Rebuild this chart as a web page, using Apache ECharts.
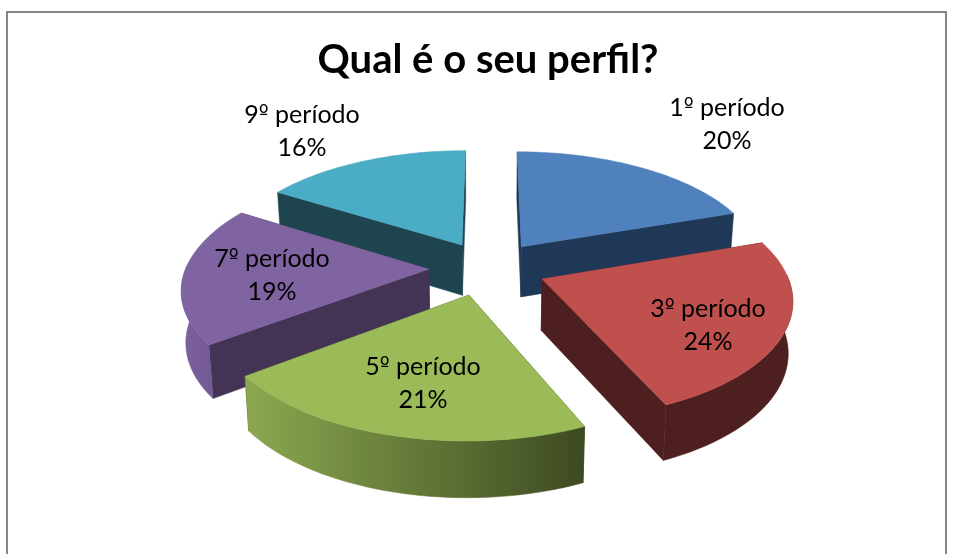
<!DOCTYPE html>
<html>
<head>
<meta charset="utf-8">
<title>Qual é o seu perfil?</title>
<script src="https://cdn.jsdelivr.net/npm/echarts@6/dist/echarts.min.js"></script>
<style>
  html, body { margin: 0; padding: 0; background: #fff; }
  #chart { width: 956px; height: 554px; }
</style>
</head>
<body>
<div id="chart"></div>
<script>
var titleText = 'Qual é o seu perfil?';
var categories = ['1º período', '3º período', '5º período', '7º período', '9º período'];
var shares = [19.8, 23.6, 21.4, 19, 16.2];

// cores: topo, parede radial, borda externa (de/para)
var topColors = ['#4F81BD', '#C0504D', '#9BBB59', '#8064A2', '#4BACC6'];
var wallColors = ['#1F3857', '#4D1F1E', '#3F4C23', '#433354', '#1E4450'];
var rimFrom = ['#1F3857', '#4D1F1E', '#8CA850', '#7D619E', '#2F6F80'];
var rimTo = ['#1F3857', '#4D1F1E', '#3D4A21', '#6A5288', '#1E4450'];

// ordem de pintura: de tras para frente
var paintOrder = [4, 0, 3, 1, 2];
var labelPos = [[727, 124], [708, 325], [423, 383], [272, 275], [302, 131]];
var nudgeX = [0, 0, -5, -3, 0];   // ajuste fino horizontal de cada fatia

// projecao da pizza "3D"
var cx = 489, cy = 268;
var rx = 243, ry = 115;
var persp = 0.15;      // perspectiva (frente maior que o fundo)
var explode = 0.235;   // afastamento das fatias
var depth = 51;        // altura da fatia
var shrink = 0.985;    // base um pouco menor que o topo

function project(X, Y, low) {
    var s = 1 / (1 - persp * Y);
    var x = cx + rx * X * s;
    var y = cy + ry * Y * s;
    if (low) {
        x = cx + (x - cx) * shrink;
        y = y + depth * (0.5 + 0.5 * s);
    }
    return [x, y];
}

var total = shares.reduce(function (a, b) { return a + b; }, 0);

function sliceAngles(i) {
    var acc = 0;
    for (var k = 0; k < i; k++) acc += shares[k];
    return [acc / total * Math.PI * 2, (acc + shares[i]) / total * Math.PI * 2];
}

function labelText(i) {
    return '{t|' + categories[i].replace('º', '}{o|º}{t|') + '}\n{t|' + Math.round(shares[i]) + '%}';
}

function renderSlice(params, api) {
    var i = params.dataIndex;
    var ang = sliceAngles(i);
    var mid = (ang[0] + ang[1]) / 2;
    var ox = Math.sin(mid) * explode;
    var oy = -Math.cos(mid) * explode;

    var arc = [];
    var front = [];
    var n = 60;
    for (var k = 0; k <= n; k++) {
        var a = ang[0] + (ang[1] - ang[0]) * k / n;
        var p = [ox + Math.sin(a), oy - Math.cos(a)];
        arc.push(p);
        // so a parte da borda voltada para quem olha aparece
        if (-Math.cos(a) > -0.05) front.push(p);
    }
    var topArc = arc.map(function (p) { return project(p[0], p[1], false); });
    var lowArc = arc.map(function (p) { return project(p[0], p[1], true); });
    var frontTop = front.map(function (p) { return project(p[0], p[1], false); });
    var frontLow = front.map(function (p) { return project(p[0], p[1], true); });
    var apexTop = project(ox, oy, false);
    var apexLow = project(ox, oy, true);

    var order = paintOrder.indexOf(i) * 10;
    var minX = Infinity, maxX = -Infinity;
    topArc.forEach(function (p) { minX = Math.min(minX, p[0]); maxX = Math.max(maxX, p[0]); });

    function poly(points, fill, z) {
        return {
            type: 'polygon',
            z2: order + z,
            x: nudgeX[i],
            shape: { points: points },
            style: { fill: fill, stroke: fill, lineWidth: 0.5 }
        };
    }

    var rimFill = new echarts.graphic.LinearGradient(minX, 0, maxX, 0, [
        { offset: 0, color: rimFrom[i] },
        { offset: 1, color: rimTo[i] }
    ], true);

    var children = [
        poly([apexTop, topArc[0], lowArc[0], apexLow], wallColors[i], 1),
        poly([apexTop, topArc[n], lowArc[n], apexLow], wallColors[i], 2)
    ];
    if (front.length > 1) {
        children.push(poly(frontTop.concat(frontLow.slice().reverse()), rimFill, 3));
    }
    children.push(poly([apexTop].concat(topArc), topColors[i], 4));
    children.push({
        type: 'text',
        z2: 100,
        x: labelPos[i][0],
        y: labelPos[i][1],
        style: {
            text: labelText(i),
            align: 'center',
            verticalAlign: 'middle',
            rich: {
                t: { fontFamily: 'Lato', fontSize: 25, lineHeight: 33, fill: '#000', color: '#000' },
                o: { fontFamily: 'DejaVu Sans', fontSize: 21, lineHeight: 33, fill: '#000', color: '#000' }
            }
        }
    });

    return { type: 'group', children: children };
}

var chart = echarts.init(document.getElementById('chart'));
chart.setOption({
    animation: false,
    backgroundColor: '#fff',
    title: {
        text: titleText,
        left: 483,
        top: 35,
        textAlign: 'center',
        textStyle: { fontFamily: 'Lato', fontSize: 40, fontWeight: 'bold', color: '#000' }
    },
    graphic: [{
        type: 'rect',
        shape: { x: 7, y: 12, width: 939, height: 570 },
        style: { fill: 'transparent', stroke: '#868686', lineWidth: 2 },
        silent: true
    }],
    series: [{
        type: 'custom',
        coordinateSystem: 'none',
        renderItem: renderSlice,
        data: shares
    }]
});
</script>
</body>
</html>
